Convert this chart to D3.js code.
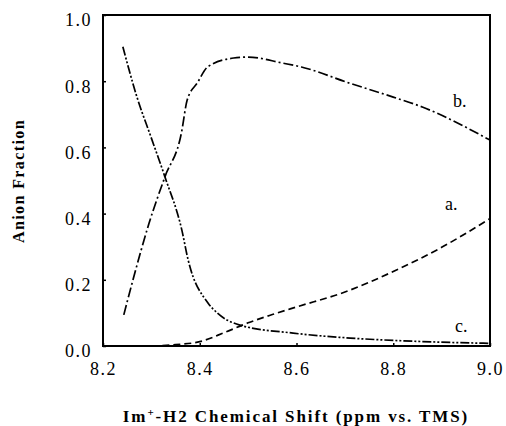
<html>
<head>
  <meta charset="utf-8">
  <script src="https://d3js.org/d3.v7.min.js"></script>
  <script>
    // curve a (dashed), b (dash-dot), c (dash-dot-dot)
    var aX = [8.30, 8.35, 8.40, 8.45, 8.50, 8.55, 8.60, 8.70, 8.80, 8.90, 9.00];
    var aY = [0.000, 0.004, 0.013, 0.040, 0.070, 0.095, 0.118, 0.163, 0.225, 0.298, 0.385];

    var bX = [8.243, 8.262, 8.295, 8.328, 8.362, 8.374, 8.395, 8.417, 8.47, 8.50, 8.57, 8.61, 8.71, 8.80, 8.86, 9.00];
    var bY = [0.094, 0.200, 0.370, 0.511, 0.643, 0.743, 0.795, 0.844, 0.870, 0.873, 0.855, 0.843, 0.794, 0.752, 0.722, 0.622];

    var cX = [8.241, 8.270, 8.300, 8.328, 8.363, 8.376, 8.417, 8.436, 8.483, 8.593, 8.711, 8.85, 9.00];
    var cY = [0.904, 0.753, 0.628, 0.511, 0.350, 0.260, 0.130, 0.100, 0.063, 0.039, 0.024, 0.014, 0.008];

    var xTicks = [8.2, 8.4, 8.6, 8.8, 9.0];
    var yTicks = [0.0, 0.2, 0.4, 0.6, 0.8, 1.0];

    function makeChart() {
        var svg = d3.select("#chart");
        var x = d3.scaleLinear().domain([8.2, 9.0]).range([103, 490]);
        var y = d3.scaleLinear().domain([0, 1]).range([346, 15]);
        var font = "'Liberation Serif', 'Times New Roman', serif";

        // frame
        svg.append("rect").attr("x", 103).attr("y", 15).attr("width", 387).attr("height", 331)
            .attr("fill", "none").attr("stroke", "#000").attr("stroke-width", 2);

        var xa = svg.append("g").attr("transform", "translate(0,346)")
            .call(d3.axisBottom(x).tickValues(xTicks).tickSize(-3).tickPadding(16).tickFormat(d3.format(".1f")));
        var ya = svg.append("g").attr("transform", "translate(103,0)")
            .call(d3.axisLeft(y).tickValues(yTicks).tickSize(-3).tickPadding(11).tickFormat(d3.format(".1f")));
        [xa, ya].forEach(function(g) {
            g.select(".domain").remove();
            g.selectAll("line").attr("stroke", "#000").attr("stroke-width", 1.5);
            g.selectAll("text").attr("font-family", font).attr("font-size", 18)
                .attr("letter-spacing", 1.5).attr("fill", "#000");
        });
        ya.selectAll("text").attr("dy", "0.6em");

        var line = d3.line().x(d => x(d[0])).y(d => y(d[1])).curve(d3.curveMonotoneX);
        var series = [
            { xs: aX, ys: aY, dash: "7,4" },
            { xs: bX, ys: bY, dash: "10,3,2,3" },
            { xs: cX, ys: cY, dash: "9,2,2,2,2,2" }
        ];
        svg.selectAll("path.curve").data(series).enter()
            .append("path").attr("class", "curve")
            .attr("d", s => line(s.xs.map((v, i) => [v, s.ys[i]])))
            .attr("fill", "none").attr("stroke", "#000").attr("stroke-width", 1.7)
            .attr("stroke-dasharray", s => s.dash);

        var labels = [["b.", 453, 107], ["a.", 445, 210], ["c.", 455, 332]];
        svg.selectAll("text.lab").data(labels).enter()
            .append("text").attr("class", "lab")
            .attr("x", d => d[1]).attr("y", d => d[2])
            .attr("font-family", font).attr("font-size", 18).text(d => d[0]);

        svg.append("text").attr("transform", "translate(24,181) rotate(-90)")
            .attr("text-anchor", "middle").attr("font-family", font).attr("font-weight", "bold")
            .attr("font-size", 16).attr("letter-spacing", 1.4).text("Anion Fraction");

        var t = svg.append("text").attr("x", 296).attr("y", 422)
            .attr("text-anchor", "middle").attr("font-family", font).attr("font-weight", "bold")
            .attr("font-size", 17).attr("letter-spacing", 1.9);
        t.append("tspan").text("Im");
        t.append("tspan").attr("font-size", 11).attr("dy", -6).text("+");
        t.append("tspan").attr("dy", 6).text("-H2 Chemical Shift (ppm vs. TMS)");
    }
  </script>
</head>
<body onload="makeChart()" style="margin:0;background:#fff">
  <svg id="chart" width="506" height="426"></svg>
</body>
</html>
